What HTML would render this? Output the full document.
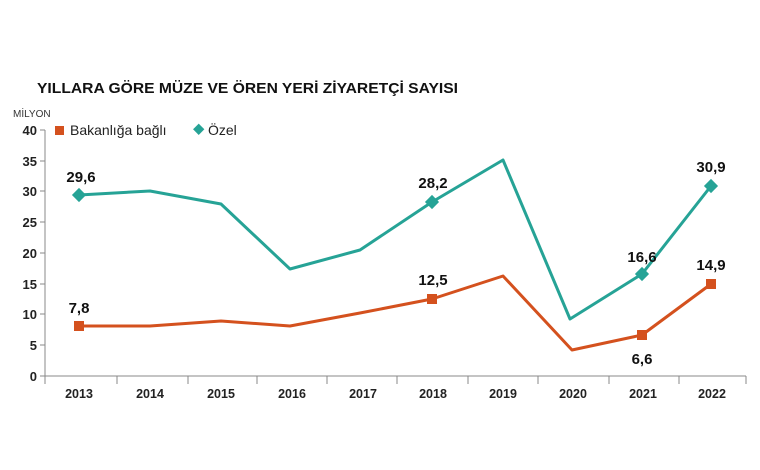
<!DOCTYPE html><html><head><meta charset="utf-8"><style>body{margin:0;background:#fff}svg{display:block;font-family:"Liberation Sans",sans-serif}</style></head><body>
<svg width="760" height="470" viewBox="0 0 760 470">
<rect width="760" height="470" fill="#fff"/>
<text x="37" y="93" font-size="15" font-weight="bold" fill="#111" textLength="421" lengthAdjust="spacingAndGlyphs">YILLARA GÖRE MÜZE VE ÖREN YERİ ZİYARETÇİ SAYISI</text>
<text x="13" y="117" font-size="10" fill="#333">MİLYON</text>
<g font-size="13" font-weight="bold" fill="#222" text-anchor="end">
<text x="37" y="135">40</text><text x="37" y="166">35</text><text x="37" y="196">30</text><text x="37" y="227">25</text><text x="37" y="258">20</text><text x="37" y="289">15</text><text x="37" y="319">10</text><text x="37" y="350">5</text><text x="37" y="381">0</text>
</g>
<g stroke="#888" stroke-width="1">
<line x1="45" y1="130" x2="45" y2="384"/><line x1="45" y1="376" x2="746" y2="376"/>
<line x1="40" y1="130" x2="45" y2="130"/><line x1="40" y1="161" x2="45" y2="161"/><line x1="40" y1="191" x2="45" y2="191"/><line x1="40" y1="222" x2="45" y2="222"/><line x1="40" y1="253" x2="45" y2="253"/><line x1="40" y1="284" x2="45" y2="284"/><line x1="40" y1="314" x2="45" y2="314"/><line x1="40" y1="345" x2="45" y2="345"/><line x1="40" y1="376" x2="45" y2="376"/>
<line x1="117" y1="376" x2="117" y2="384"/><line x1="188" y1="376" x2="188" y2="384"/><line x1="257" y1="376" x2="257" y2="384"/><line x1="327" y1="376" x2="327" y2="384"/><line x1="397" y1="376" x2="397" y2="384"/><line x1="468" y1="376" x2="468" y2="384"/><line x1="538" y1="376" x2="538" y2="384"/><line x1="609" y1="376" x2="609" y2="384"/><line x1="679" y1="376" x2="679" y2="384"/><line x1="746" y1="376" x2="746" y2="384"/>
</g>
<g font-size="12.5" font-weight="bold" fill="#222" text-anchor="middle">
<text x="79" y="398">2013</text><text x="150" y="398">2014</text><text x="221" y="398">2015</text><text x="292" y="398">2016</text><text x="363" y="398">2017</text><text x="433" y="398">2018</text><text x="503" y="398">2019</text><text x="573" y="398">2020</text><text x="643" y="398">2021</text><text x="712" y="398">2022</text>
</g>
<polyline fill="none" stroke="#26a396" stroke-width="3" stroke-linejoin="round" points="79,195 150,191 221,204 290,269 360,250 432,202 503,160 570,319 642,274 711,186"/>
<polyline fill="none" stroke="#d4511e" stroke-width="3" stroke-linejoin="round" points="79,326 150,326 221,321 290,326 360,313 432,299 503,276 572,350 642,335 711,284"/>
<g fill="#26a396">
<rect x="74" y="190" width="10" height="10" transform="rotate(45 79 195)"/><rect x="427" y="197" width="10" height="10" transform="rotate(45 432 202)"/><rect x="637" y="269" width="10" height="10" transform="rotate(45 642 274)"/><rect x="706" y="181" width="10" height="10" transform="rotate(45 711 186)"/>
</g>
<g fill="#d4511e">
<rect x="74" y="321" width="10" height="10"/><rect x="427" y="294" width="10" height="10"/><rect x="637" y="330" width="10" height="10"/><rect x="706" y="279" width="10" height="10"/>
</g>
<g font-size="15" font-weight="bold" fill="#111" text-anchor="middle">
<text x="81" y="182">29,6</text><text x="433" y="188">28,2</text><text x="642" y="262">16,6</text><text x="711" y="172">30,9</text>
<text x="79" y="313">7,8</text><text x="433" y="285">12,5</text><text x="642" y="364">6,6</text><text x="711" y="270">14,9</text>
</g>
<rect x="55" y="126" width="9" height="9" fill="#d4511e"/>
<text x="70" y="135" font-size="14" fill="#222">Bakanlığa bağlı</text>
<rect x="194" y="125" width="8" height="8" fill="#26a396" transform="rotate(45 198 130)"/>
<text x="208" y="135" font-size="14" fill="#222">Özel</text>
</svg></body></html>
